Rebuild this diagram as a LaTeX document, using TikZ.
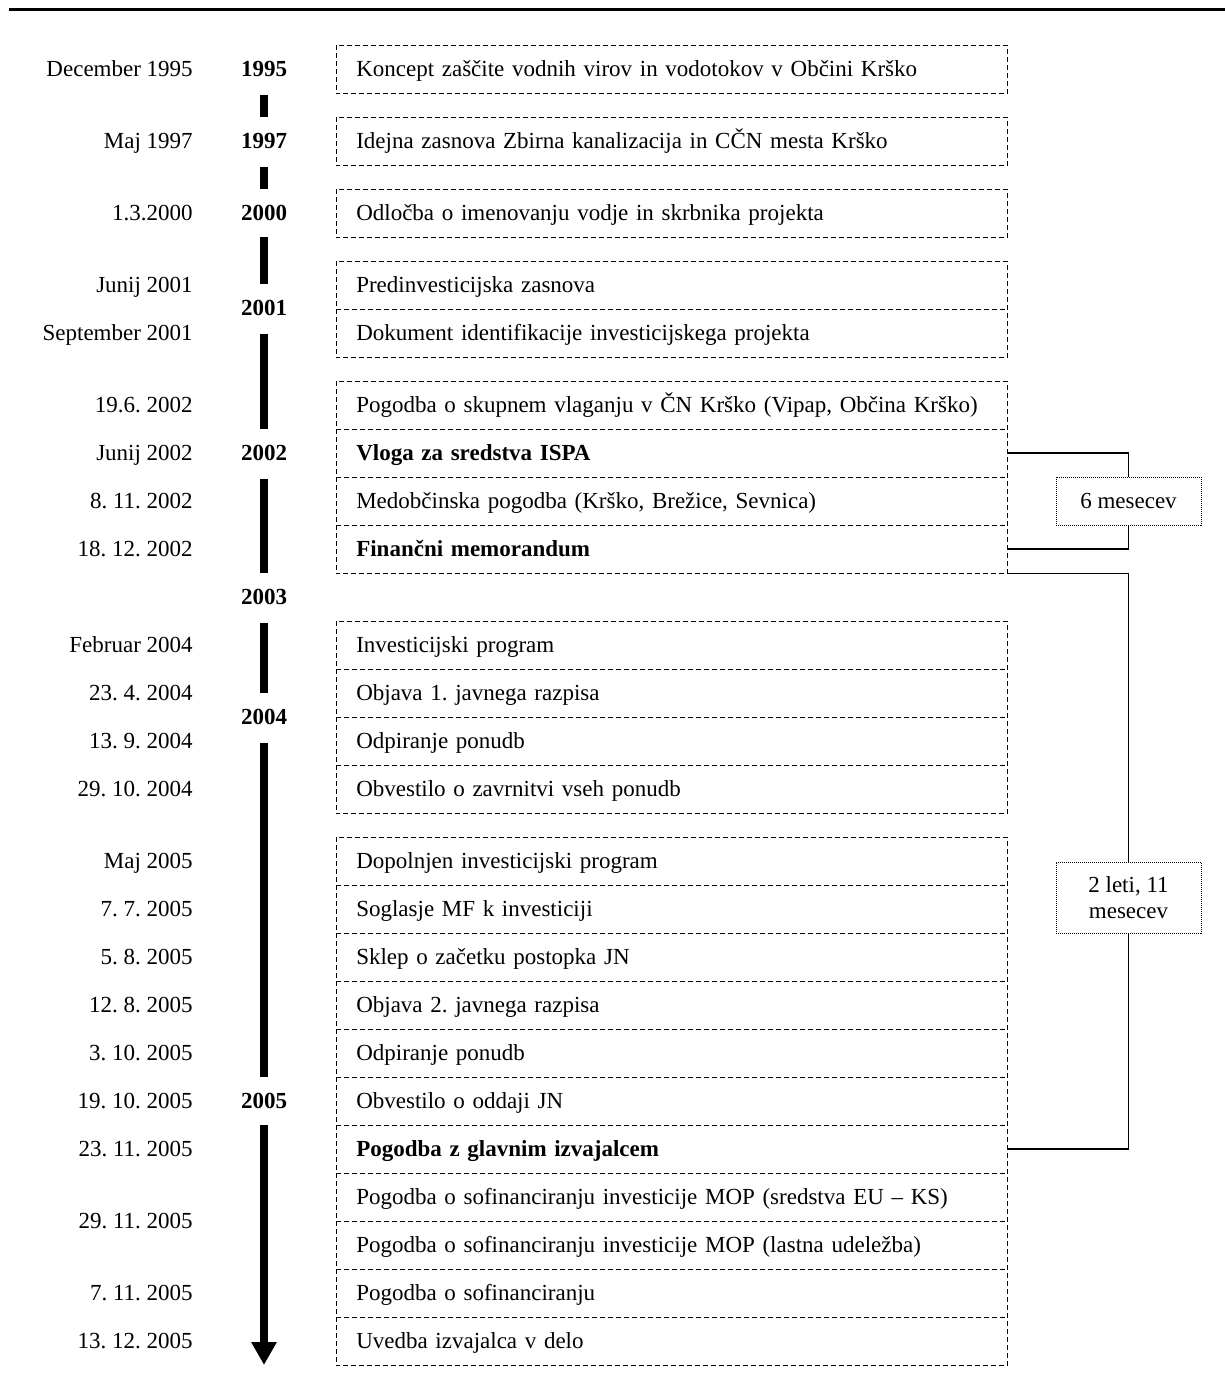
\documentclass[tikz,border=0pt]{standalone}
\usepackage{fontspec}
\setmainfont{Liberation Serif}
\usetikzlibrary{arrows.meta}
\frenchspacing
\begin{document}
\begin{tikzpicture}[x=0.75pt, y=-0.75pt,
  every node/.style={font=\fontsize{17.25pt}{20pt}\selectfont\frenchspacing},
  rowbox/.style={minimum width=503.25pt, minimum height=36pt, text width=473.25pt,
    inner xsep=15pt, inner ysep=0pt, align=left, anchor=north west,
    text height=12pt, text depth=1.5pt},
  dashbox/.style={dash pattern=on 3.75pt off 2.25pt, line width=0.7pt},
  datelbl/.style={anchor=east, inner sep=0pt, text height=12pt, text depth=1.5pt},
  yearlbl/.style={font=\fontsize{17.25pt}{20pt}\selectfont\bfseries, minimum height=36pt,
    inner sep=0pt, text height=12pt, text depth=1.5pt},
  tlbar/.style={line width=6pt},
  spanbox/.style={draw, dash pattern=on 0.75pt off 0.75pt, line width=0.5pt, fill=white,
    minimum width=108.75pt, minimum height=36pt, align=center, inner sep=0pt},
  bracket/.style={line width=1.3pt}]
\useasboundingbox (0,0) rectangle (1225,1379);
\draw[line width=2.25pt] (9,9.5) -- (1225,9.5);

% rows
\node[rowbox] (r1) at (336,45) {Koncept zaščite vodnih virov in vodotokov v Občini Krško};
\node[rowbox] (r2) at (336,117) {Idejna zasnova Zbirna kanalizacija in CČN mesta Krško};
\node[rowbox] (r3) at (336,189) {Odločba o imenovanju vodje in skrbnika projekta};
\node[rowbox] (r4a) at (336,261) {Predinvesticijska zasnova};
\node[rowbox] (r4b) at (336,309) {Dokument identifikacije investicijskega projekta};
\node[rowbox] (r5a) at (336,381) {Pogodba o skupnem vlaganju v ČN Krško (Vipap, Občina Krško)};
\node[rowbox] (r5b) at (336,429) {\textbf{Vloga za sredstva ISPA}};
\node[rowbox] (r5c) at (336,477) {Medobčinska pogodba (Krško, Brežice, Sevnica)};
\node[rowbox] (r5d) at (336,525) {\textbf{Finančni memorandum}};
\node[rowbox] (r6a) at (336,621) {Investicijski program};
\node[rowbox] (r6b) at (336,669) {Objava 1. javnega razpisa};
\node[rowbox] (r6c) at (336,717) {Odpiranje ponudb};
\node[rowbox] (r6d) at (336,765) {Obvestilo o zavrnitvi vseh ponudb};
\node[rowbox] (r7a) at (336,837) {Dopolnjen investicijski program};
\node[rowbox] (r7b) at (336,885) {Soglasje MF k investiciji};
\node[rowbox] (r7c) at (336,933) {Sklep o začetku postopka JN};
\node[rowbox] (r7d) at (336,981) {Objava 2. javnega razpisa};
\node[rowbox] (r7e) at (336,1029) {Odpiranje ponudb};
\node[rowbox] (r7f) at (336,1077) {Obvestilo o oddaji JN};
\node[rowbox] (r7g) at (336,1125) {\textbf{Pogodba z glavnim izvajalcem}};
\node[rowbox] (r7h) at (336,1173) {Pogodba o sofinanciranju investicije MOP (sredstva EU – KS)};
\node[rowbox] (r7i) at (336,1221) {Pogodba o sofinanciranju investicije MOP (lastna udeležba)};
\node[rowbox] (r7j) at (336,1269) {Pogodba o sofinanciranju};
\node[rowbox] (r7k) at (336,1317) {Uvedba izvajalca v delo};

% group outlines and separators
\draw[dashbox] (r1.north west) rectangle (r1.south east);
\draw[dashbox] (r2.north west) rectangle (r2.south east);
\draw[dashbox] (r3.north west) rectangle (r3.south east);
\draw[dashbox] (r4a.north west) rectangle (r4b.south east);
\draw[dashbox] (r4a.south west) -- (r4a.south east);
\draw[dashbox] (r5a.north west) rectangle (r5d.south east);
\foreach \r in {r5a,r5b,r5c} \draw[dashbox] (\r.south west) -- (\r.south east);
\draw[dashbox] (r6a.north west) rectangle (r6d.south east);
\foreach \r in {r6a,r6b,r6c} \draw[dashbox] (\r.south west) -- (\r.south east);
\draw[dashbox] (r7a.north west) rectangle (r7k.south east);
\foreach \r in {r7a,r7b,r7c,r7d,r7e,r7f,r7g,r7h,r7i,r7j} \draw[dashbox] (\r.south west) -- (\r.south east);

% dates
\node[datelbl] (d1) at (193,69) {December 1995};
\node[datelbl] (d2) at (193,141) {Maj 1997};
\node[datelbl] (d3) at (193,213) {1.3.2000};
\node[datelbl] (d4) at (193,285) {Junij 2001};
\node[datelbl] (d5) at (193,333) {September 2001};
\node[datelbl] (d6) at (193,405) {19.6. 2002};
\node[datelbl] (d7) at (193,453) {Junij 2002};
\node[datelbl] (d8) at (193,501) {8. 11. 2002};
\node[datelbl] (d9) at (193,549) {18. 12. 2002};
\node[datelbl] (d10) at (193,645) {Februar 2004};
\node[datelbl] (d11) at (193,693) {23. 4. 2004};
\node[datelbl] (d12) at (193,741) {13. 9. 2004};
\node[datelbl] (d13) at (193,789) {29. 10. 2004};
\node[datelbl] (d14) at (193,861) {Maj 2005};
\node[datelbl] (d15) at (193,909) {7. 7. 2005};
\node[datelbl] (d16) at (193,957) {5. 8. 2005};
\node[datelbl] (d17) at (193,1005) {12. 8. 2005};
\node[datelbl] (d18) at (193,1053) {3. 10. 2005};
\node[datelbl] (d19) at (193,1101) {19. 10. 2005};
\node[datelbl] (d20) at (193,1149) {23. 11. 2005};
\node[datelbl] (d21) at (193,1221) {29. 11. 2005};
\node[datelbl] (d22) at (193,1293) {7. 11. 2005};
\node[datelbl] (d23) at (193,1341) {13. 12. 2005};

% years
\node[yearlbl] (y1995) at (264,69) {1995};
\node[yearlbl] (y1997) at (264,141) {1997};
\node[yearlbl] (y2000) at (264,213) {2000};
\node[yearlbl] (y2001) at (264,308) {2001};
\node[yearlbl] (y2002) at (264,453) {2002};
\node[yearlbl] (y2003) at (264,597) {2003};
\node[yearlbl] (y2004) at (264,717) {2004};
\node[yearlbl] (y2005) at (264,1101) {2005};
\coordinate (tlend) at (264,1365);

% timeline bars
\draw[tlbar] ([yshift=-1pt]y1995.south) -- (y1997.north);
\draw[tlbar] ([yshift=-1pt]y1997.south) -- (y2000.north);
\draw[tlbar] (y2000.south) -- (y2001.north);
\draw[tlbar] ([yshift=-1pt]y2001.south) -- (y2002.north);
\draw[tlbar] ([yshift=-1pt]y2002.south) -- (y2003.north);
\draw[tlbar] ([yshift=-1pt]y2003.south) -- (y2004.north);
\draw[tlbar] ([yshift=-1pt]y2004.south) -- (y2005.north);
\draw[tlbar, -{Triangle[width=18pt,length=17.25pt]}] (y2005.south) -- (tlend);

% spans
\node[spanbox] (m6) at (1128.5,501) {6 mesecev};
\node[spanbox, minimum height=53.25pt] (m2) at (1128.5,897.5) {2 leti, 11\\mesecev};
\draw[bracket] (r5b.east) -| (m6.north);
\draw[bracket] (r5d.east) -| (m6.south);
\draw[bracket] (r5d.south east) -| (m2.north);
\draw[bracket] (r7g.east) -| (m2.south);
\end{tikzpicture}
\end{document}
